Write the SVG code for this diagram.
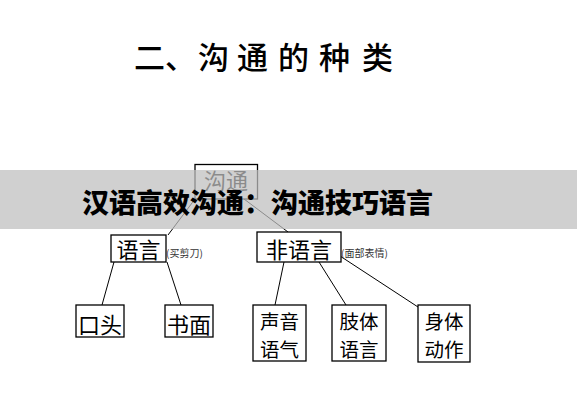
<svg xmlns="http://www.w3.org/2000/svg" width="577" height="400" viewBox="0 0 577 400">
<style>
.box{fill:#fff;stroke:#000;stroke-width:1.3}
.t{font-family:"Noto Sans CJK SC","Noto Sans",sans-serif;font-size:22px;fill:#000;text-anchor:middle}
.t2{font-family:"Noto Sans CJK SC","Noto Sans",sans-serif;font-size:19.5px;fill:#000;text-anchor:middle}
.small{font-family:"Noto Sans CJK SC",sans-serif;font-size:10px;fill:#333}
.ln{stroke:#000;stroke-width:1;fill:none}
</style>
<rect width="577" height="400" fill="#fff"/>
<g id="title">
<text font-family="'Noto Sans CJK SC',sans-serif" font-size="31" font-weight="500" y="69"><tspan x="134">二、</tspan><tspan x="198">沟</tspan><tspan x="237">通</tspan><tspan x="278">的</tspan><tspan x="319">种</tspan><tspan x="362">类</tspan></text>
</g>
<g id="connectors">
<line class="ln" x1="195" y1="199" x2="168" y2="235"/>
<line class="ln" x1="244" y1="199" x2="288" y2="232"/>
<line class="ln" x1="114" y1="262" x2="102" y2="305"/>
<line class="ln" x1="167" y1="262" x2="181" y2="305"/>
<line class="ln" x1="284" y1="262" x2="275" y2="305"/>
<line class="ln" x1="319" y1="262" x2="346" y2="305"/>
<line class="ln" x1="340" y1="256" x2="418" y2="307"/>
</g>
<g id="n-goutong">
<rect class="box" x="195" y="164.5" width="62.5" height="34.5"/>
<text class="t" x="226" y="189">沟通</text>
</g>
<g id="n-yuyan">
<rect class="box" x="111" y="235" width="55" height="27"/>
<text class="t" x="138.5" y="258">语言</text>
<text class="small" x="166" y="257">(买剪刀)</text>
</g>
<g id="n-feiyuyan">
<rect class="box" x="257" y="232" width="84" height="30"/>
<text class="t" x="299" y="258">非语言</text>
<text class="small" x="341" y="257">(面部表情)</text>
</g>
<g id="n-koutou">
<rect class="box" x="76" y="305" width="48" height="32"/>
<text class="t" x="100" y="333">口头</text>
</g>
<g id="n-shumian">
<rect class="box" x="165" y="305" width="48" height="32"/>
<text class="t" x="189" y="333">书面</text>
</g>
<g id="n-shengyin">
<rect class="box" x="253" y="305" width="53" height="56"/>
<text class="t2" x="279.5" y="328.5">声音</text>
<text class="t2" x="279.5" y="357">语气</text>
</g>
<g id="n-zhiti">
<rect class="box" x="332" y="305" width="54" height="56"/>
<text class="t2" x="359" y="328.5">肢体</text>
<text class="t2" x="359" y="357">语言</text>
</g>
<g id="n-shenti">
<rect class="box" x="418" y="305" width="52" height="57"/>
<text class="t2" x="444" y="328.5">身体</text>
<text class="t2" x="444" y="357">动作</text>
</g>
<g id="banner">
<rect x="0" y="170" width="577" height="59" fill="#bfbfbf" fill-opacity="0.73"/>
<text x="82" y="213" font-family="'Noto Sans CJK SC',sans-serif" font-size="27" font-weight="900" fill="#000">汉语高效沟通：沟通技巧语言</text>
</g>
</svg>
